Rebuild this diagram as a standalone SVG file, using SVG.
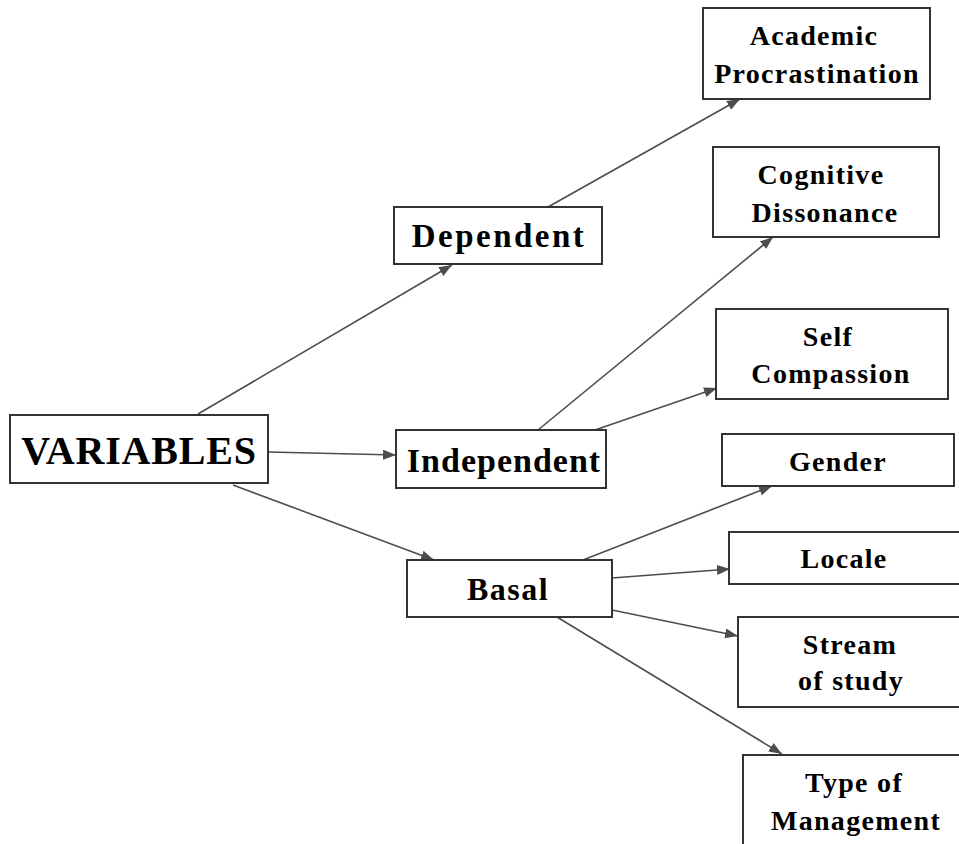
<svg xmlns="http://www.w3.org/2000/svg" width="959" height="844" viewBox="0 0 959 844">
  <style>
    .box { fill: #ffffff; stroke: #333333; stroke-width: 2; }
    .lbl { font-family: "Liberation Serif", "Times New Roman", serif; font-weight: bold; fill: #000000; text-anchor: middle; }
    .s28 { font-size: 28px; letter-spacing: 1.3px; }
    .edge { stroke: #4d4d4d; stroke-width: 1.6; fill: none; marker-end: url(#arrow); }
  </style>
  <defs>
    <marker id="arrow" markerUnits="userSpaceOnUse" markerWidth="13" markerHeight="10" refX="13" refY="5" orient="auto">
      <path d="M0,0 L13,5 L0,10 z" fill="#4d4d4d"/>
    </marker>
  </defs>
  <rect width="959" height="844" fill="#ffffff"/>

  <!-- connectors -->
  <g id="connectors">
    <line class="edge" x1="198" y1="414" x2="452" y2="265"/>
    <line class="edge" x1="548" y1="207" x2="740" y2="99"/>
    <line class="edge" x1="268" y1="452" x2="396" y2="455"/>
    <line class="edge" x1="233" y1="485" x2="434" y2="560"/>
    <line class="edge" x1="538" y1="430" x2="773" y2="237"/>
    <line class="edge" x1="595" y1="430" x2="717" y2="388"/>
    <line class="edge" x1="583" y1="560" x2="772" y2="486"/>
    <line class="edge" x1="612" y1="578" x2="730" y2="569"/>
    <line class="edge" x1="612" y1="610" x2="738" y2="636"/>
    <line class="edge" x1="557" y1="617" x2="782" y2="754"/>
  </g>

  <!-- root -->
  <g id="variables">
    <rect class="box" x="10" y="415" width="258" height="68"/>
    <text class="lbl" x="139" y="464" font-size="40" letter-spacing="0.8">VARIABLES</text>
  </g>

  <!-- categories -->
  <g id="dependent">
    <rect class="box" x="394" y="207" width="208" height="57"/>
    <text class="lbl" x="499" y="247" font-size="33" letter-spacing="2.5">Dependent</text>
  </g>
  <g id="independent">
    <rect class="box" x="396" y="430" width="210" height="58"/>
    <text class="lbl" x="504" y="472" font-size="34" letter-spacing="1">Independent</text>
  </g>
  <g id="basal">
    <rect class="box" x="407" y="560" width="205" height="57"/>
    <text class="lbl" x="508" y="600" font-size="32" letter-spacing="1.5">Basal</text>
  </g>

  <!-- variables -->
  <g id="academic-procrastination">
    <rect class="box" x="703" y="8" width="227" height="91"/>
    <text class="lbl s28" x="814" y="45">Academic</text>
    <text class="lbl s28" x="817" y="83">Procrastination</text>
  </g>
  <g id="cognitive-dissonance">
    <rect class="box" x="713" y="147" width="226" height="90"/>
    <text class="lbl s28" x="821" y="184">Cognitive</text>
    <text class="lbl s28" x="825" y="222">Dissonance</text>
  </g>
  <g id="self-compassion">
    <rect class="box" x="716" y="309" width="232" height="90"/>
    <text class="lbl s28" x="828" y="346">Self</text>
    <text class="lbl s28" x="831" y="383">Compassion</text>
  </g>
  <g id="gender">
    <rect class="box" x="722" y="434" width="232" height="52"/>
    <text class="lbl s28" x="838" y="471">Gender</text>
  </g>
  <g id="locale">
    <rect class="box" x="729" y="532" width="250" height="52"/>
    <text class="lbl s28" x="844" y="568">Locale</text>
  </g>
  <g id="stream-of-study">
    <rect class="box" x="738" y="617" width="250" height="90"/>
    <text class="lbl s28" x="850" y="654">Stream</text>
    <text class="lbl s28" x="851" y="690">of study</text>
  </g>
  <g id="type-of-management">
    <rect class="box" x="743" y="755" width="250" height="120"/>
    <text class="lbl s28" x="854" y="792">Type of</text>
    <text class="lbl s28" x="856" y="830">Management</text>
  </g>
</svg>
